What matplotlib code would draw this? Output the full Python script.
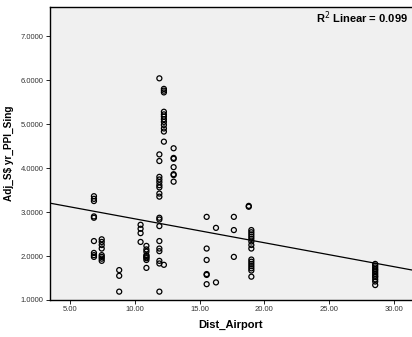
import numpy as np
import matplotlib.pyplot as plt

plt.rcParams['font.family'] = ['Liberation Sans', 'DejaVu Sans']

# points: (Dist_Airport, Adj_S$ yr_PPI_Sing)
x_7_0 = [6.85] * 9
y_7_0 = [3.36, 3.30, 3.25, 2.90, 2.87, 2.34, 2.07, 2.02, 1.98]
x_7_5 = [7.45] * 8
y_7_5 = [2.38, 2.32, 2.25, 2.17, 2.02, 1.98, 1.94, 1.89]
x_8_8 = [8.8] * 3
y_8_8 = [1.68, 1.55, 1.19]
x_10_5 = [10.45] * 4
y_10_5 = [2.71, 2.62, 2.52, 2.32]
x_10_9 = [10.9] * 9
y_10_9 = [2.23, 2.15, 2.10, 2.02, 2.00, 1.97, 1.95, 1.91, 1.73]
x_11_9 = [11.9] * 19
y_11_9 = [6.04, 4.31, 4.16, 3.80, 3.74, 3.68, 3.61, 3.56, 3.42, 3.35,
          2.87, 2.83, 2.68, 2.34, 2.17, 2.11, 1.89, 1.83, 1.19]
x_12_2 = [12.25] * 13
y_12_2 = [5.80, 5.76, 5.72, 5.28, 5.22, 5.17, 5.11, 5.05, 4.98, 4.90,
          4.83, 4.60, 1.80]
x_13_0 = [13.0] * 7
y_13_0 = [4.45, 4.23, 4.21, 4.02, 3.86, 3.84, 3.69]
x_15_6 = [15.55] * 6
y_15_6 = [2.89, 2.17, 1.91, 1.59, 1.57, 1.36]
x_16_3 = [16.27] * 2
y_16_3 = [2.64, 1.40]
x_17_7 = [17.65] * 3
y_17_7 = [2.89, 2.59, 1.98]
x_18_8 = [18.8] * 2
y_18_8 = [3.12, 3.14]
x_19_0 = [19.0] * 15
y_19_0 = [2.59, 2.54, 2.49, 2.44, 2.39, 2.33, 2.25, 2.17,
          1.92, 1.87, 1.82, 1.77, 1.72, 1.67, 1.53]
x_28_6 = [28.56] * 12
y_28_6 = [1.82, 1.78, 1.74, 1.70, 1.67, 1.63, 1.59, 1.55, 1.52, 1.47, 1.42, 1.34]

xs = np.concatenate([x_7_0, x_7_5, x_8_8, x_10_5, x_10_9, x_11_9, x_12_2,
                     x_13_0, x_15_6, x_16_3, x_17_7, x_18_8, x_19_0, x_28_6])
ys = np.concatenate([y_7_0, y_7_5, y_8_8, y_10_5, y_10_9, y_11_9, y_12_2,
                     y_13_0, y_15_6, y_16_3, y_17_7, y_18_8, y_19_0, y_28_6])

# linear fit line as drawn in the chart
fit_intercept = 3.39
fit_slope = -0.0544
r2_text = "R$^2$ Linear = 0.099"

fig = plt.figure(figsize=(4.12, 3.37), dpi=100)
ax = fig.add_axes([0.1214, 0.1098, 0.8786, 0.8692])
ax.set_facecolor('#f0f0f0')

ax.scatter(xs, ys, s=13, facecolors='none', edgecolors='black', linewidths=0.9, zorder=3)

xlim = (3.46, 31.4)
line_x = np.array(xlim)
ax.plot(line_x, fit_intercept + fit_slope * line_x, color='black', lw=0.9, zorder=2)

ax.set_xlim(*xlim)
ax.set_ylim(1.0, 7.66)
ax.set_xticks([5, 10, 15, 20, 25, 30])
ax.set_xticklabels([f"{v:.2f}" for v in [5, 10, 15, 20, 25, 30]])
ax.set_yticks([1, 2, 3, 4, 5, 6, 7])
ax.set_yticklabels([f"{v:.4f}" for v in [1, 2, 3, 4, 5, 6, 7]])
ax.tick_params(labelsize=5.5, labelcolor='#333333', length=3, width=0.6, pad=1.5)

for side in ['left', 'bottom', 'top']:
    ax.spines[side].set_linewidth(1.0)
    ax.spines[side].set_color('black')
ax.spines['right'].set_visible(False)

ax.set_xlabel("Dist_Airport", fontsize=8, fontweight='bold', labelpad=5)
ax.set_ylabel("Adj_S$ yr_PPI_Sing", fontsize=7.2, fontweight='bold', labelpad=5)

fig.text(408 / 412, 1 - 18 / 337, r2_text, fontsize=8, fontweight='bold',
         ha='right', va='center')

fig.savefig("out.png", dpi=100)
